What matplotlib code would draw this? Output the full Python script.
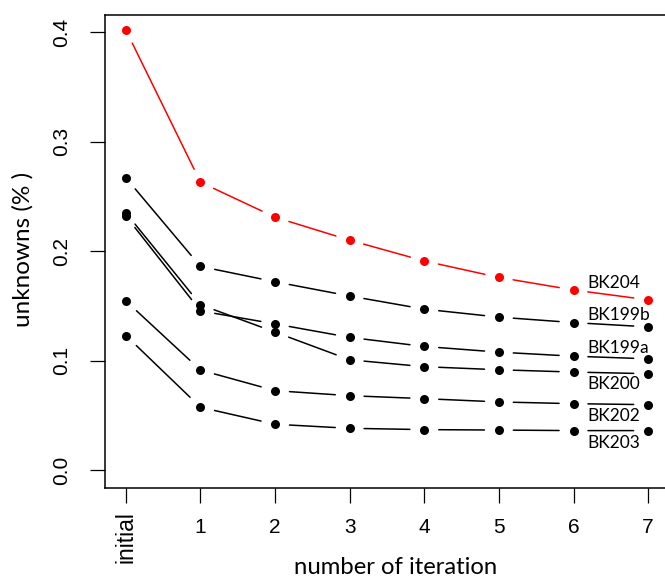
import matplotlib
matplotlib.use("Agg")
import matplotlib.pyplot as plt
from matplotlib.transforms import ScaledTranslation

# iterations (x positions) and tick labels
iterations = [0, 1, 2, 3, 4, 5, 6, 7]
tick_labels = ["initial", "1", "2", "3", "4", "5", "6", "7"]

# unknowns (%) per sample
bk204 = [0.402, 0.263, 0.231, 0.210, 0.191, 0.176, 0.1645, 0.1555]
bk199b = [0.267, 0.186, 0.172, 0.159, 0.147, 0.1397, 0.1347, 0.1308]
bk199a = [0.232, 0.1454, 0.1335, 0.1212, 0.1129, 0.1077, 0.104, 0.1016]
bk200 = [0.235, 0.151, 0.126, 0.1007, 0.0944, 0.0916, 0.0895, 0.088]
bk202 = [0.1545, 0.0913, 0.0725, 0.0679, 0.0652, 0.0622, 0.0606, 0.0597]
bk203 = [0.1229, 0.0573, 0.0418, 0.0381, 0.0369, 0.0365, 0.036, 0.036]

series = [
    ("BK204", bk204, "#ff0000", 0.1661),
    ("BK199b", bk199b, "black", 0.1369),
    ("BK199a", bk199a, "black", 0.1070),
    ("BK200", bk200, "black", 0.0736),
    ("BK202", bk202, "black", 0.0446),
    ("BK203", bk203, "black", 0.0202),
]

W, H = 665, 581
fig = plt.figure(figsize=(W / 100, H / 100), dpi=100)
ax = fig.add_axes([105 / W, 1 - 487.5 / H, (669 - 105) / W, (487.5 - 14.8) / H])
ax.set_xlim(-0.28, 7.28)
ax.set_ylim(-0.016, 0.416)

# R type="b": points with gapped line segments between them
for name, vals, col, ylab in series:
    for i in range(len(iterations) - 1):
        ax.annotate("", xy=(iterations[i + 1], vals[i + 1]), xytext=(iterations[i], vals[i]),
                    arrowprops=dict(arrowstyle="-", color=col, lw=1.1, shrinkA=10.4, shrinkB=10.4))
    ax.plot(iterations, vals, "o", color=col, markersize=6.5, markeredgewidth=0, zorder=3)
    ax.text(6.18, ylab, name, fontsize=12.5, family="Lato", ha="left", va="baseline")

for side in ["left", "bottom", "top", "right"]:
    ax.spines[side].set_linewidth(1.1)

ax.set_yticks([0.0, 0.1, 0.2, 0.3, 0.4])
ax.set_yticklabels(["0.0", "0.1", "0.2", "0.3", "0.4"], rotation=90, va="center",
                   family="Liberation Sans", fontsize=15)
ax.set_xticks(iterations)
ax.set_xticklabels(tick_labels, family="Liberation Sans", fontsize=15)
ax.tick_params(axis="both", direction="out", length=10.8, width=0.9, pad=11)
ax.tick_params(axis="y", pad=13.5)

# "initial" is written vertically and sits a bit higher than the digits
first = ax.get_xticklabels()[0]
first.set_rotation(90)
first.set_fontsize(16.5)
first.set_transform(first.get_transform() + ScaledTranslation(0, 7 / 100, fig.dpi_scale_trans))

fig.text(396 / W, 1 - 568 / H, "number of iteration", family="Lato", fontsize=17.2,
         ha="center", va="center")
fig.text(23 / W, 1 - 249 / H, "unknowns (% )", family="Lato", fontsize=17.5,
         ha="center", va="center", rotation=90)

fig.savefig("out.png", dpi=100)
